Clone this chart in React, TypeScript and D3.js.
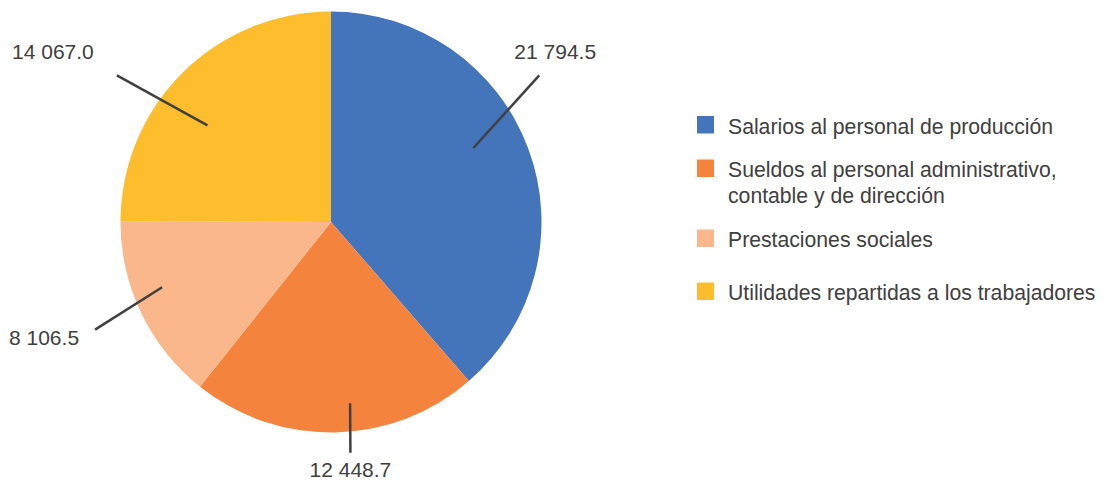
import React from "react";
import * as d3 from "d3";

const WIDTH = 1103;
const HEIGHT = 480;
const CENTER = { x: 331, y: 222 };
const RADIUS = 210.5;

// data
const categories = [
  "Salarios al personal de producción",
  "Sueldos al personal administrativo, contable y de dirección",
  "Prestaciones sociales",
  "Utilidades repartidas a los trabajadores",
];
const legendLines = [
  ["Salarios al personal de producción"],
  ["Sueldos al personal administrativo,", "contable y de dirección"],
  ["Prestaciones sociales"],
  ["Utilidades repartidas a los trabajadores"],
];
const values = [21794.5, 12448.7, 8106.5, 14067.0];
const valueLabels = ["21 794.5", "12 448.7", "8 106.5", "14 067.0"];
const colors = ["#4474BA", "#F4833E", "#F9B78B", "#FDBD2C"];

// label placement (leader line: angle offset from mid-angle in degrees, radius factor)
const leaderIn = [
  [-7, 0.762],
  [-4.8, 0.866],
  [4.5, 0.86],
  [-7.1, 0.745],
];
const leaderOut = [
  [-14.7, 1.21],
  [-3.6, 1.1],
  [1.1, 1.232],
  [-10.7, 1.233],
];
const labelOffset = [
  { dx: 16, dy: -16, anchor: "middle" },
  { dx: 0, dy: 24.5, anchor: "middle" },
  { dx: -16, dy: 15, anchor: "end" },
  { dx: -64, dy: -16, anchor: "middle" },
];
const legendTop = [116, 159.5, 229.5, 282.5];

const FONT = "'Liberation Sans', Arial, sans-serif";
const TEXT = "#404040";

const App = () => {
  const pie = d3
    .pie<number>()
    .sort(null)
    .value((d) => d);
  const arcs = pie(values);
  const arc = d3.arc<d3.PieArcDatum<number>>().innerRadius(0).outerRadius(RADIUS);

  const toRad = (deg: number) => (deg * Math.PI) / 180;

  return (
    <svg
      width={WIDTH}
      height={HEIGHT}
      style={{ position: "absolute", left: 0, top: 0, background: "#fff" }}
    >
      <g transform={`translate(${CENTER.x},${CENTER.y})`}>
        {arcs.map((a, i) => (
          <path key={categories[i]} d={arc(a) || ""} fill={colors[i]} />
        ))}
        {arcs.map((a, i) => {
          const mid = (a.startAngle + a.endAngle) / 2;
          const p1 = d3.pointRadial(mid + toRad(leaderIn[i][0]), RADIUS * leaderIn[i][1]);
          const p2 = d3.pointRadial(mid + toRad(leaderOut[i][0]), RADIUS * leaderOut[i][1]);
          const lo = labelOffset[i];
          return (
            <g key={"lbl" + i}>
              <line
                x1={p1[0]}
                y1={p1[1]}
                x2={p2[0]}
                y2={p2[1]}
                stroke="#404040"
                strokeWidth={2.5}
              />
              <text
                x={p2[0] + lo.dx}
                y={p2[1] + lo.dy}
                textAnchor={lo.anchor}
                fontFamily={FONT}
                fontSize={21}
                fill={TEXT}
              >
                {valueLabels[i]}
              </text>
            </g>
          );
        })}
      </g>
      <g>
        {legendLines.map((lines, i) => (
          <g key={"leg" + i}>
            <rect x={697} y={legendTop[i]} width={17} height={17.5} fill={colors[i]} />
            {lines.map((t, j) => (
              <text
                key={j}
                x={728}
                y={legendTop[i] + 17.5 + j * 26}
                fontFamily={FONT}
                fontSize={21.2}
                fill={TEXT}
              >
                {t}
              </text>
            ))}
          </g>
        ))}
      </g>
    </svg>
  );
};

export default App;
